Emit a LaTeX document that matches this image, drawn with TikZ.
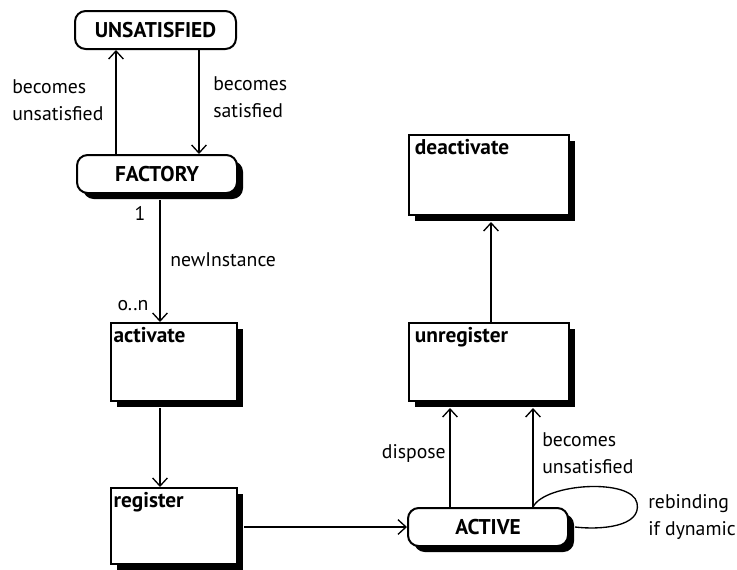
\documentclass[tikz,border=0pt]{standalone}
\usepackage{fontspec}
\setmainfont{PT Sans}
\usetikzlibrary{arrows.meta,shadows,calc}
\begin{document}
\begin{tikzpicture}[x=0.75pt,y=-0.75pt,
  lw/.style={line width=1.5pt},
  shad/.style={drop shadow={shadow xshift=4.5pt,shadow yshift=-4.5pt,fill=black,opacity=1}},
  state/.style={draw,lw,fill=white,rounded corners=8pt,minimum width=120pt,minimum height=28.5pt,inner sep=0pt,font=\fontsize{16}{19}\selectfont\bfseries},
  act/.style={draw,lw,fill=white,anchor=north west,inner sep=0pt},
  boxlab/.style={anchor=north west,inner sep=0pt,font=\fontsize{16}{19}\selectfont\bfseries},
  lab/.style={align=left,inner sep=0pt,font=\fontsize{14.8}{20}\selectfont},
  arr/.style={lw,-{Straight Barb[length=6pt,width=11pt,line width=1pt]}},
  con/.style={lw}]
\useasboundingbox (0,0) rectangle (737,569);
% state nodes
\node[state,minimum width=120.75pt] (unsat) at (155.5,30) {UNSATISFIED};
\node[state,shad] (factory) at (157,174) {FACTORY};
\node[state,shad] (active) at (488,527) {ACTIVE};
% activity boxes
\node[act,shad,minimum width=94.5pt,minimum height=58.5pt] (activate) at (110,322) {};
\node[boxlab] (activatel) at ([xshift=2.5pt,yshift=-4pt]activate.north west) {activate};
\node[act,shad,minimum width=94.5pt,minimum height=57pt] (register) at (110,487) {};
\node[boxlab] (registerl) at ([xshift=2.5pt,yshift=-4pt]register.north west) {register};
\node[act,shad,minimum width=120pt,minimum height=58.5pt] (unregister) at (408,322) {};
\node[boxlab] (unregisterl) at ([xshift=5pt,yshift=-4pt]unregister.north west) {unregister};
\node[act,shad,minimum width=120pt,minimum height=60pt] (deactivate) at (408,134) {};
\node[boxlab] (deactivatel) at ([xshift=5pt,yshift=-4pt]deactivate.north west) {deactivate};
% helper x positions
\coordinate (xa) at (116,0);
\coordinate (xb) at (199,0);
\coordinate (xc) at (160,0);
\coordinate (xd) at (450,0);
\coordinate (xe) at (533,0);
\coordinate (xf) at (491,0);
% connectors
\draw[arr] (factory.north -| xa) -- (unsat.south -| xa);
\draw[arr] (unsat.south -| xb) -- (factory.north -| xb);
\draw[arr] ([yshift=-4.5pt]factory.south -| xc) -- (activate.north -| xc);
\draw[arr] ([yshift=-4.5pt]activate.south -| xc) -- (register.north -| xc);
\draw[arr] ([xshift=4.5pt]register.east |- active.west) -- (active.west);
\draw[arr] (active.north -| xd) -- ([yshift=-4.5pt]unregister.south -| xd);
\draw[arr] (active.north -| xe) -- ([yshift=-4.5pt]unregister.south -| xe);
\draw[arr] (unregister.north -| xf) -- ([yshift=-4.5pt]deactivate.south -| xf);
\coordinate (loopend) at ([xshift=4.5pt]active.east);
\draw[line width=1pt] (active.north -| xe) .. controls (545,483) and (632,478) .. (637,503) .. controls (642,527) and (600,530) .. (loopend);
% labels
\node[lab,anchor=west] (l1) at (12,100) {becomes\\unsatisfied};
\node[lab,anchor=west] (l2) at (213,97) {becomes\\satisfied};
\node[lab] (l3) at (140,213) {1};
\node[lab,anchor=west] (l4) at (170,260) {newInstance};
\node[lab] (l5) at (133,306) {o..n};
\node[lab,anchor=east] (l6) at (446,453) {dispose};
\node[lab,anchor=west] (l7) at (542,453) {becomes\\unsatisfied};
\node[lab,anchor=west] (l8) at (648,517) {rebinding\\if dynamic};
\end{tikzpicture}
\end{document}
